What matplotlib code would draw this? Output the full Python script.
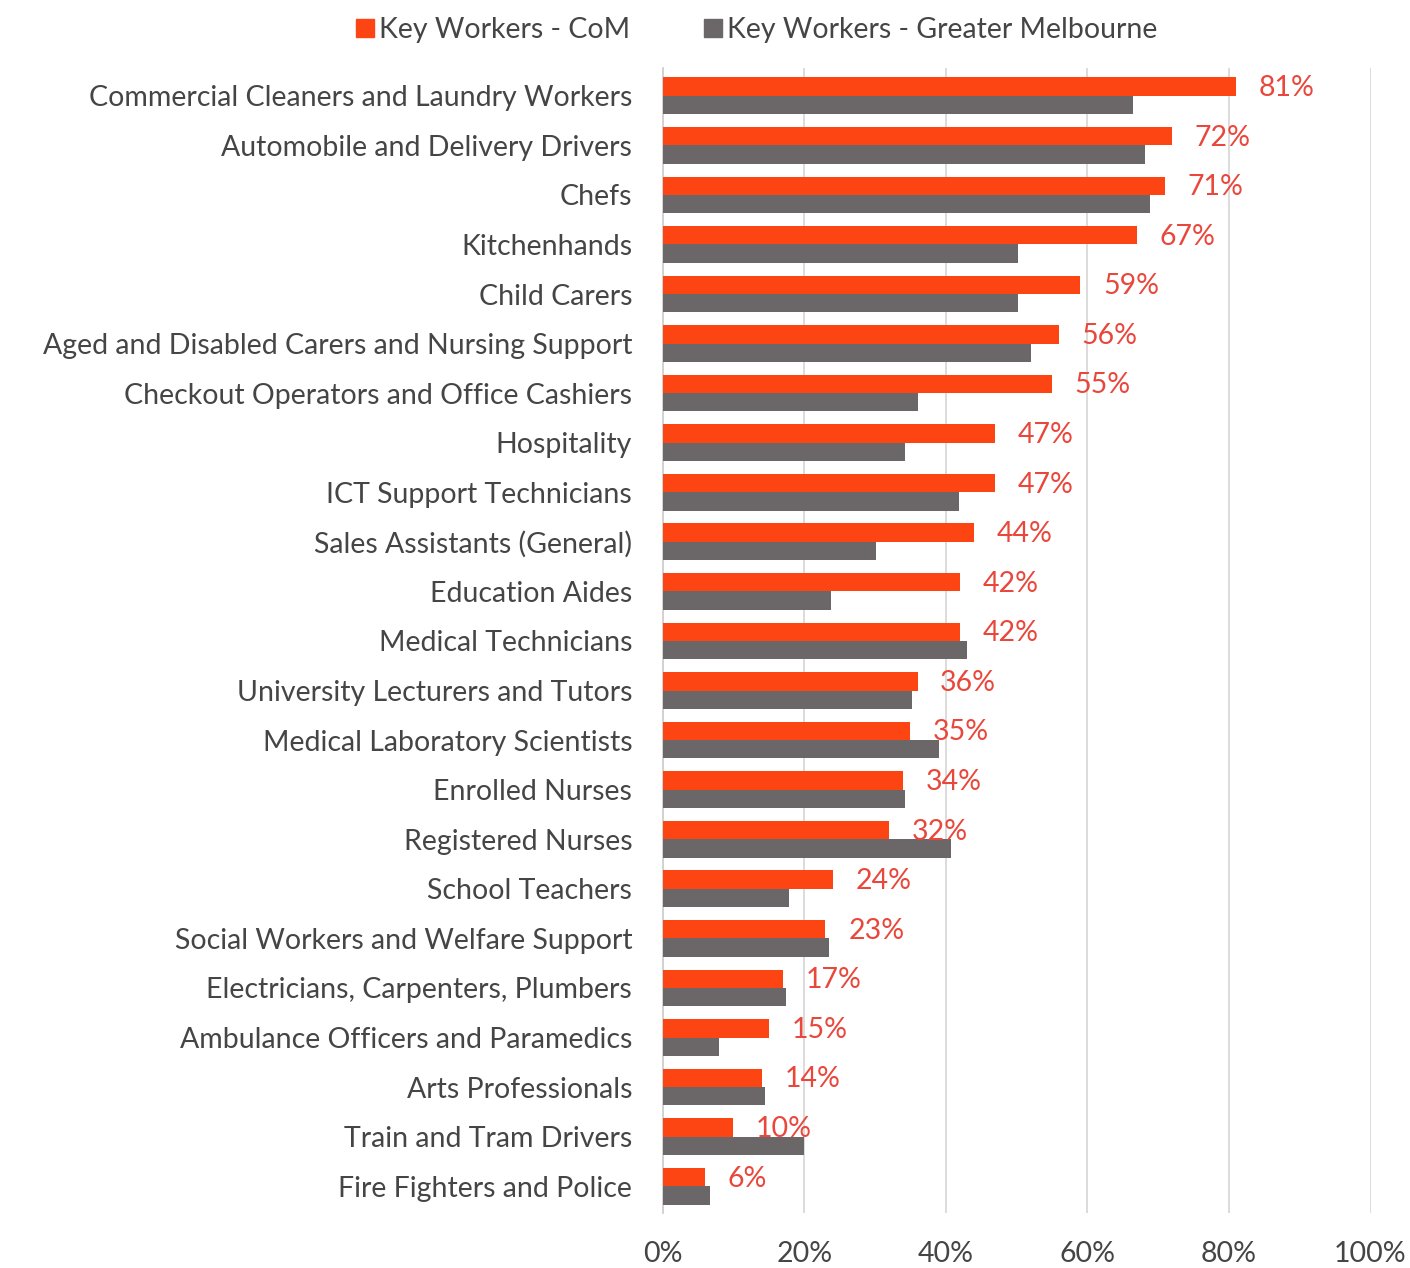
#!/usr/bin/env python
# -*- coding: utf-8 -*-
# Key workers share by occupation: City of Melbourne vs Greater Melbourne

import matplotlib
matplotlib.use('Agg')
import matplotlib.pyplot as plt
import numpy as np
from matplotlib.lines import Line2D

#***********************************************************************
# Data (percent)
occupations = ['Commercial Cleaners and Laundry Workers',
               'Automobile and Delivery Drivers',
               'Chefs',
               'Kitchenhands',
               'Child Carers',
               'Aged and Disabled Carers and Nursing Support',
               'Checkout Operators and Office Cashiers',
               'Hospitality',
               'ICT Support Technicians',
               'Sales Assistants (General)',
               'Education Aides',
               'Medical Technicians',
               'University Lecturers and Tutors',
               'Medical Laboratory Scientists',
               'Enrolled Nurses',
               'Registered Nurses',
               'School Teachers',
               'Social Workers and Welfare Support',
               'Electricians, Carpenters, Plumbers',
               'Ambulance Officers and Paramedics',
               'Arts Professionals',
               'Train and Tram Drivers',
               'Fire Fighters and Police']
com_pct = [81, 72, 71, 67, 59, 56, 55, 47, 47, 44, 42, 42, 36, 35, 34, 32, 24, 23, 17, 15, 14, 10, 6]
gm_pct = [66.5, 68.2, 68.9, 50.2, 50.2, 52.0, 36.0, 34.3, 41.9, 30.2, 23.8, 43.0, 35.2, 39.1,
          34.3, 40.7, 17.8, 23.5, 17.4, 8.0, 14.5, 20.0, 6.7]
xticks_pct = [0, 20, 40, 60, 80, 100]
series_names = ['Key Workers - CoM', 'Key Workers - Greater Melbourne']

#***********************************************************************
# Settings
c_com = '#FC4512'
c_gm = '#6B6768'
c_txt = '#454545'
c_val = '#E9473B'
fsizeL = 20.5
plt.rcParams['font.family'] = ['Lato', 'DejaVu Sans']

fig = plt.figure(figsize=(14.1, 12.68), dpi=100)
ax = fig.add_axes([0.470, 0.043, 0.502, 0.903])

y = np.arange(len(occupations))
h = 0.37
ax.barh(y - h/2, com_pct, height=h, color=c_com, zorder=3)
ax.barh(y + h/2, gm_pct, height=h, color=c_gm, zorder=3)

# Value labels next to CoM bars
for yi, v in zip(y, com_pct):
	ax.text(v + 3.2, yi - h/2 + 0.03, '%d%%' % v, color=c_val, fontsize=fsizeL,
	        va='center', ha='left', zorder=4)

ax.set_xlim(0, 100)
ax.set_ylim(len(occupations) - 0.45, -0.55)
ax.set_yticks(y)
ax.set_yticklabels(occupations, fontsize=fsizeL, color=c_txt)
ax.set_xticks(xticks_pct)
ax.set_xticklabels(['%d%%' % t for t in xticks_pct], fontsize=fsizeL, color=c_txt)
ax.tick_params(axis='y', length=0, pad=22)
ax.tick_params(axis='x', length=0, pad=20)
ax.grid(axis='x', color='#D9D9D9', lw=1.3, zorder=0)
for s in ['top', 'right', 'bottom']:
	ax.spines[s].set_visible(False)
ax.spines['left'].set_color('#D0D0D0')
ax.spines['left'].set_linewidth(1.3)

#....................................
# Legend
handles = [Line2D([], [], marker='s', ls='', color=c_com, markersize=12.5),
           Line2D([], [], marker='s', ls='', color=c_gm, markersize=12.5)]
leg = fig.legend(handles, series_names, loc='upper center', bbox_to_anchor=(0.537, 1.007),
                 ncol=2, frameon=False, fontsize=fsizeL, handlelength=0.6,
                 handletextpad=0.2, columnspacing=2.6)
for t in leg.get_texts():
	t.set_color(c_txt)

fig.savefig('out.png', dpi=100, facecolor='white')
